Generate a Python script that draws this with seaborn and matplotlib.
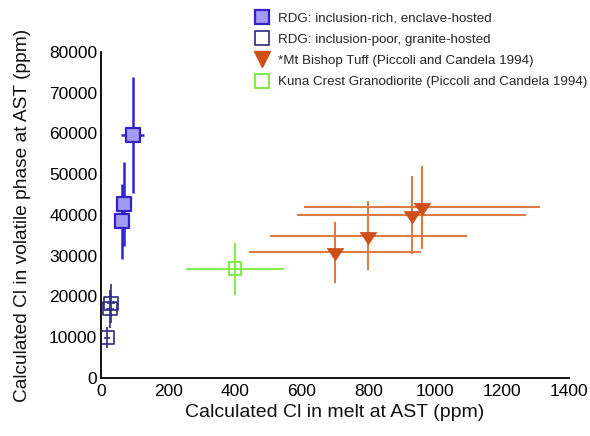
import matplotlib
matplotlib.use("Agg")
import matplotlib.pyplot as plt
from matplotlib.lines import Line2D
import seaborn as sns
import pandas as pd

# ---- data ----
rich_x = [93, 68, 60]
rich_y = [59600, 42700, 38400]
rich_xerr = [35, 20, 10]
rich_yerr = [14200, 10300, 9200]

poor_x = [28, 26, 17]
poor_y = [18300, 17000, 9900]
poor_xerr = [12, 12, 10]
poor_yerr = [4700, 4700, 2500]

bishop_x = [699, 800, 930, 960]
bishop_y = [30800, 34900, 40000, 41900]
bishop_xerr = [258, 295, 343, 354]
bishop_yerr = [7400, 8400, 9600, 10150]

kuna_x = [400]
kuna_y = [26800]
kuna_xerr = [148]
kuna_yerr = [6400]

labels = ["RDG: inclusion-rich, enclave-hosted",
          "RDG: inclusion-poor, granite-hosted",
          "*Mt Bishop Tuff (Piccoli and Candela 1994)",
          "Kuna Crest Granodiorite (Piccoli and Candela 1994)"]
x_ticks = [0, 200, 400, 600, 800, 1000, 1200, 1400]
y_ticks = [0, 10000, 20000, 30000, 40000, 50000, 60000, 70000, 80000]
x_label = "Calculated Cl in melt at AST (ppm)"
y_label = "Calculated Cl in volatile phase at AST (ppm)"

sns.set_style("white")
plt.rcParams['font.family'] = ['Liberation Sans', 'DejaVu Sans']

fig = plt.figure(figsize=(5.9, 4.36), dpi=100)
ax = fig.add_axes([0.172, 0.133, 0.792, 0.748])

rich_edge = "#3322CC"
rich_face = "#A09CF4"
poor_edge = "#2E2A80"
orange = "#CF4F1A"
orange_line = "#DC7A48"
green = "#86EA4E"

tri_down = [(-1.0, 0.5), (1.0, 0.5), (0.0, -1.0), (-1.0, 0.5)]

# error bars
ax.errorbar(rich_x, rich_y, xerr=rich_xerr, yerr=rich_yerr, fmt="none",
            ecolor=rich_edge, elinewidth=1.8, capsize=0, zorder=2)
ax.errorbar(poor_x, poor_y, xerr=poor_xerr, yerr=poor_yerr, fmt="none",
            ecolor=poor_edge, elinewidth=1.2, capsize=0, zorder=2)
ax.errorbar(bishop_x, bishop_y, xerr=bishop_xerr, yerr=bishop_yerr, fmt="none",
            ecolor=orange_line, elinewidth=1.5, capsize=0, zorder=2)
ax.errorbar(kuna_x, kuna_y, xerr=kuna_xerr, yerr=kuna_yerr, fmt="none",
            ecolor=green, elinewidth=1.5, capsize=0, zorder=2)

# markers
df_rich = pd.DataFrame({"x": rich_x, "y": rich_y})
df_poor = pd.DataFrame({"x": poor_x, "y": poor_y})
df_bishop = pd.DataFrame({"x": bishop_x, "y": bishop_y})
df_kuna = pd.DataFrame({"x": kuna_x, "y": kuna_y})

sns.scatterplot(data=df_rich, x="x", y="y", marker="s", s=100, color=rich_face,
                edgecolor=rich_edge, linewidth=1.6, ax=ax, zorder=3)
sns.scatterplot(data=df_poor, x="x", y="y", marker="s", s=95, facecolor="none",
                edgecolor=poor_edge, linewidth=1.2, ax=ax, zorder=3)
sns.scatterplot(data=df_bishop, x="x", y="y", marker=tri_down, s=140, color=orange,
                edgecolor=orange, linewidth=0.5, ax=ax, zorder=3)
sns.scatterplot(data=df_kuna, x="x", y="y", marker="s", s=85, facecolor="none",
                edgecolor=green, linewidth=1.5, ax=ax, zorder=3)

ax.set_xlim(0, 1400)
ax.set_ylim(0, 80000)
ax.set_xticks(x_ticks)
ax.set_yticks(y_ticks)
ax.set_xticklabels([str(t) for t in x_ticks])
ax.set_yticklabels([str(t) for t in y_ticks])
ax.tick_params(direction="in", length=6, width=1.3, labelsize=12.5, pad=3,
               colors="black")
ax.tick_params(axis="x", pad=4)
for s in ["top", "right"]:
    ax.spines[s].set_visible(False)
for s in ["left", "bottom"]:
    ax.spines[s].set_color("black")
    ax.spines[s].set_linewidth(1.3)
ax.set_xlabel(x_label, fontsize=14, labelpad=4, color="#111111")
ax.set_ylabel(y_label, fontsize=13.8, labelpad=13, color="#111111")

handles = [
    Line2D([], [], linestyle="none", marker="s", markersize=10,
           markerfacecolor=rich_face, markeredgecolor=rich_edge, markeredgewidth=1.6),
    Line2D([], [], linestyle="none", marker="s", markersize=10,
           markerfacecolor="none", markeredgecolor=poor_edge, markeredgewidth=1.2),
    Line2D([], [], linestyle="none", marker="v", markersize=12,
           markerfacecolor=orange, markeredgecolor=orange),
    Line2D([], [], linestyle="none", marker="s", markersize=10,
           markerfacecolor="none", markeredgecolor=green, markeredgewidth=1.5),
]
fig.legend(handles, labels, loc="upper left", bbox_to_anchor=(0.424, 0.985),
           frameon=False, fontsize=9.6, handlelength=1.0, handletextpad=0.7,
           labelspacing=0.68, borderaxespad=0)

fig.savefig("out.png", dpi=100)
